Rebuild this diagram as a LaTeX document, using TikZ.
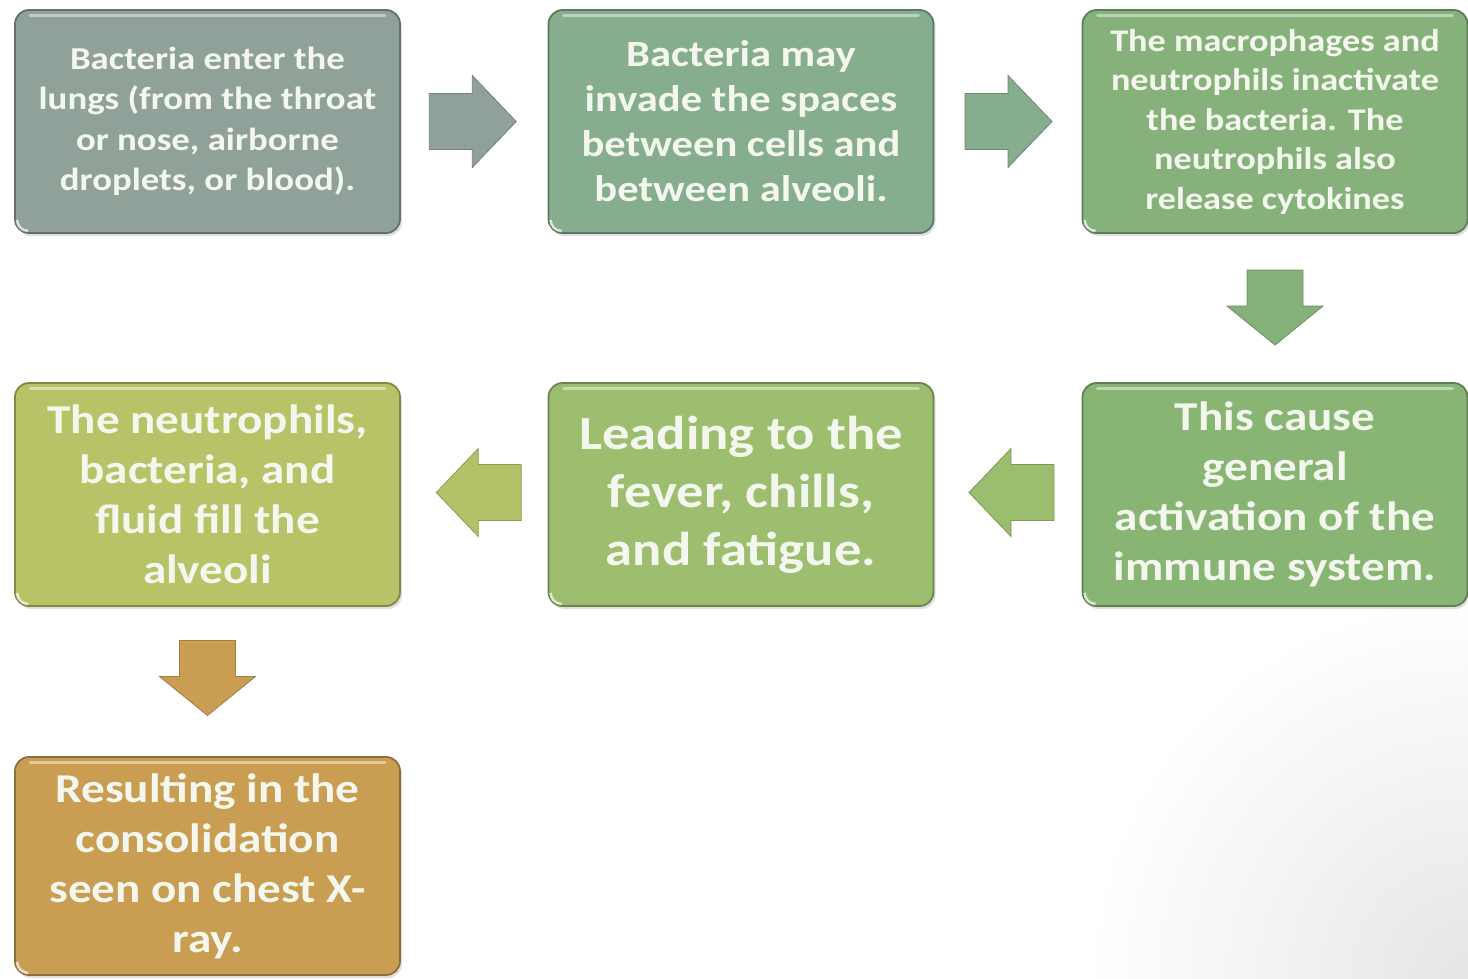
\documentclass[tikz,border=0pt]{standalone}
\usepackage{fontspec}
\setmainfont{Carlito}[FakeStretch=1.15]
\usetikzlibrary{calc,shadows}
\definecolor{cA}{HTML}{8FA199}
\definecolor{cB}{HTML}{86AD8D}
\definecolor{cC}{HTML}{86B17B}
\definecolor{cD}{HTML}{B8C267}
\definecolor{cE}{HTML}{9CBE6E}
\definecolor{cF}{HTML}{88B574}
\definecolor{cG}{HTML}{C99E52}
\definecolor{txt}{HTML}{F4F7EE}
\tikzset{
  box/.style={rounded corners=14pt, minimum width=385pt, minimum height=223pt,
    line width=1.8pt, text=txt, align=center, inner sep=0pt,
    drop shadow={opacity=0.25, shadow xshift=2pt, shadow yshift=-3pt}},
  blockarrow/.style={line width=0.8pt},
  fs/.style n args={2}{font={\fontsize{#1}{#2}\selectfont\bfseries}},
}
\begin{document}
\begin{tikzpicture}[x=1pt,y=-1pt]
\useasboundingbox (0,0) rectangle (1468,978);
\begin{scope}
\clip (0,0) rectangle (1468,978);
\shade[inner color=black!10, outer color=white] (1468,978) circle (380);
\end{scope}

\node[box, fill=cA, draw=cA!70!black, fs={32}{40.5}] (b1) at (207.5,121.5)
 {Bacteria enter the\\ lungs (from the throat\\ or nose, airborne\\ droplets, or blood).};
\node[box, fill=cB, draw=cB!70!black, fs={37}{45}] (b2) at (741,121.5)
 {Bacteria may\\ invade the spaces\\ between cells and\\ between alveoli.};
\node[box, fill=cC, draw=cC!70!black, fs={31.5}{39.5}] (b3) at (1275,121.5)
 {The macrophages and\\ neutrophils inactivate\\ the bacteria. The\\ neutrophils also\\ release cytokines};
\node[box, fill=cD, draw=cD!70!black, fs={41}{50}] (b4) at (207.5,494.5)
 {The neutrophils,\\ bacteria, and\\ fluid fill the\\ alveoli};
\node[box, fill=cE, draw=cE!70!black, fs={47.5}{58}] (b5) at (741,494.5)
 {Leading to the\\ fever, chills,\\ and fatigue.};
\node[box, fill=cF, draw=cF!70!black, fs={41}{50}] (b6) at (1275,494.5)
 {This cause\\ general\\ activation of the\\ immune system.};
\node[box, fill=cG, draw=cG!70!black, minimum height=218pt, fs={41}{50}] (b7) at (207.5,866)
 {Resulting in the\\ consolidation\\ seen on chest X-\\ ray.};

% glossy highlights
\foreach \b in {b1,b2,b3,b4,b5,b6,b7}{
  \draw[white, opacity=0.45, line width=3pt, line cap=round]
    ($(\b.north west)+(16,6)$) -- ($(\b.north east)+(-16,6)$);
  \draw[white, opacity=0.7, line width=2.5pt]
    ($(\b.south west)+(3,-14)$) arc[start angle=180, end angle=90, radius=11];
}

% right arrows
\fill[cA, draw=cA!80!black, blockarrow, shift={($(b1.east)!0.5!(b2.west)$)}]
  (-45,-28) -- (-2,-28) -- (-2,-46) -- (42,0) -- (-2,46) -- (-2,28) -- (-45,28) -- cycle;
\fill[cB, draw=cB!80!black, blockarrow, shift={($(b2.east)!0.5!(b3.west)$)}]
  (-43,-28) -- (0,-28) -- (0,-46) -- (44,0) -- (0,46) -- (0,28) -- (-43,28) -- cycle;
% down arrow b3 -> b6
\fill[cC, draw=cC!80!black, blockarrow, shift={($(b3.south)!0.5!(b6.north)$)}]
  (-28,-38) -- (28,-38) -- (28,-2) -- (48,-2) -- (0,37) -- (-48,-2) -- (-28,-2) -- cycle;
% left arrows
\fill[cE!92!cF, draw=cE!80!black, blockarrow, shift={($(b6.west)!0.5!(b5.east)+(3,-2)$)}]
  (43,-28) -- (0,-28) -- (0,-44) -- (-42,0) -- (0,44) -- (0,28) -- (43,28) -- cycle;
\fill[cD!85!cE, draw=cD!80!black, blockarrow, shift={($(b5.west)!0.5!(b4.east)+(4,-2)$)}]
  (43,-28) -- (0,-28) -- (0,-44) -- (-42,0) -- (0,44) -- (0,28) -- (43,28) -- cycle;
% down arrow b4 -> b7
\fill[cG, draw=cG!80!black, blockarrow, shift={($(b4.south)!0.5!(b7.north)+(0,-3)$)}]
  (-28,-38) -- (28,-38) -- (28,-2) -- (48,-2) -- (0,37) -- (-48,-2) -- (-28,-2) -- cycle;
\end{tikzpicture}
\end{document}
